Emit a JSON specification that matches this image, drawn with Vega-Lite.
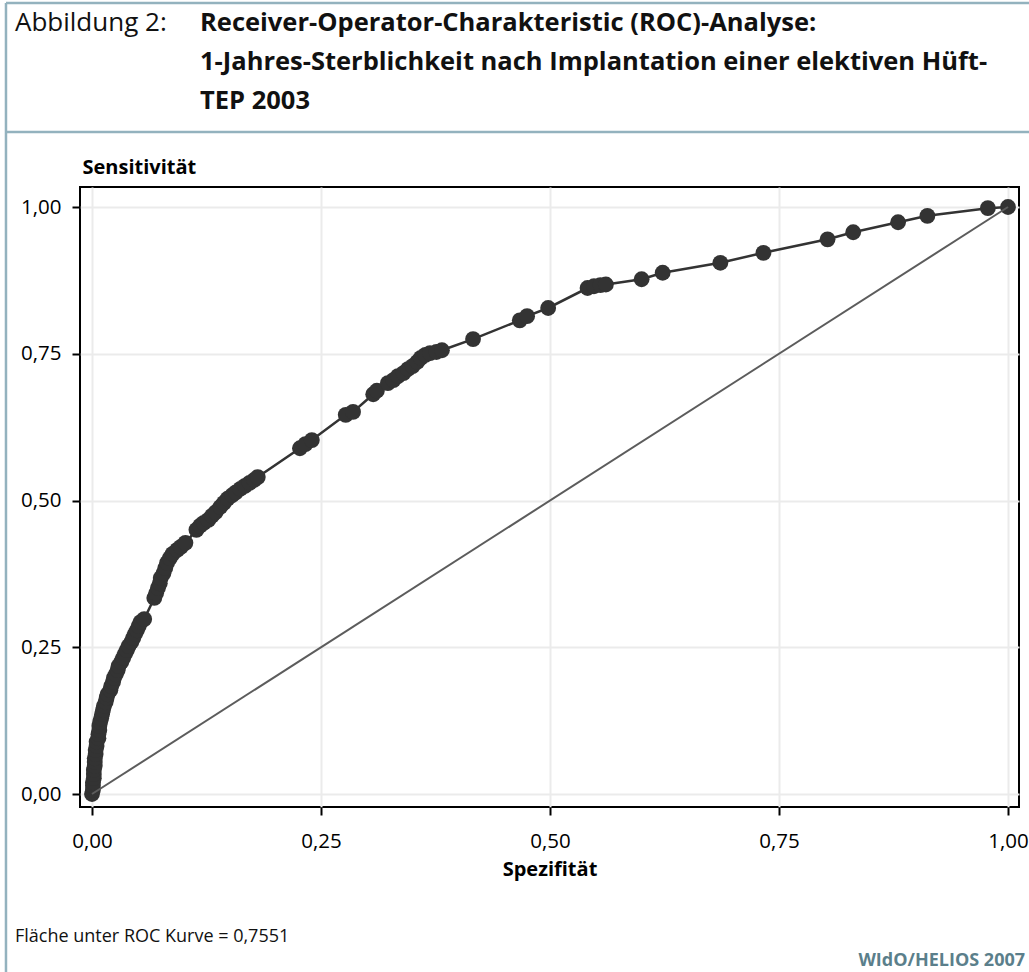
{
  "$schema": "https://vega.github.io/schema/vega-lite/v6.json",
  "width": 939,
  "height": 620,
  "autosize": {"type": "none"},
  "padding": {"left": 80, "top": 187, "right": 10, "bottom": 165},
  "background": "white",
  "config": {
    "font": "Open Sans",
    "view": {"stroke": "#000000", "strokeWidth": 2},
    "axis": {
      "grid": true,
      "gridColor": "#ebebeb",
      "gridWidth": 2,
      "domain": false,
      "tickColor": "#000000",
      "tickWidth": 2,
      "tickSize": 8,
      "labelFont": "Open Sans",
      "labelFontSize": 20.5,
      "labelColor": "#000000",
      "titleFont": "Open Sans",
      "titleFontSize": 20,
      "titleFontWeight": "bold",
      "titleColor": "#000000"
    }
  },
  "datasets": {
    "roc": [
      {"spezifitaet": 0.000, "sensitivitaet": 0.000},
      {"spezifitaet": 0.001, "sensitivitaet": 0.007},
      {"spezifitaet": 0.001, "sensitivitaet": 0.014},
      {"spezifitaet": 0.001, "sensitivitaet": 0.020},
      {"spezifitaet": 0.002, "sensitivitaet": 0.027},
      {"spezifitaet": 0.002, "sensitivitaet": 0.034},
      {"spezifitaet": 0.002, "sensitivitaet": 0.041},
      {"spezifitaet": 0.003, "sensitivitaet": 0.048},
      {"spezifitaet": 0.003, "sensitivitaet": 0.055},
      {"spezifitaet": 0.003, "sensitivitaet": 0.061},
      {"spezifitaet": 0.004, "sensitivitaet": 0.068},
      {"spezifitaet": 0.004, "sensitivitaet": 0.075},
      {"spezifitaet": 0.005, "sensitivitaet": 0.082},
      {"spezifitaet": 0.005, "sensitivitaet": 0.089},
      {"spezifitaet": 0.007, "sensitivitaet": 0.095},
      {"spezifitaet": 0.007, "sensitivitaet": 0.102},
      {"spezifitaet": 0.008, "sensitivitaet": 0.109},
      {"spezifitaet": 0.008, "sensitivitaet": 0.116},
      {"spezifitaet": 0.009, "sensitivitaet": 0.123},
      {"spezifitaet": 0.010, "sensitivitaet": 0.129},
      {"spezifitaet": 0.011, "sensitivitaet": 0.136},
      {"spezifitaet": 0.012, "sensitivitaet": 0.143},
      {"spezifitaet": 0.013, "sensitivitaet": 0.150},
      {"spezifitaet": 0.015, "sensitivitaet": 0.157},
      {"spezifitaet": 0.016, "sensitivitaet": 0.164},
      {"spezifitaet": 0.017, "sensitivitaet": 0.170},
      {"spezifitaet": 0.020, "sensitivitaet": 0.177},
      {"spezifitaet": 0.021, "sensitivitaet": 0.184},
      {"spezifitaet": 0.023, "sensitivitaet": 0.191},
      {"spezifitaet": 0.024, "sensitivitaet": 0.198},
      {"spezifitaet": 0.026, "sensitivitaet": 0.204},
      {"spezifitaet": 0.028, "sensitivitaet": 0.211},
      {"spezifitaet": 0.029, "sensitivitaet": 0.218},
      {"spezifitaet": 0.032, "sensitivitaet": 0.225},
      {"spezifitaet": 0.034, "sensitivitaet": 0.232},
      {"spezifitaet": 0.036, "sensitivitaet": 0.239},
      {"spezifitaet": 0.038, "sensitivitaet": 0.245},
      {"spezifitaet": 0.040, "sensitivitaet": 0.252},
      {"spezifitaet": 0.043, "sensitivitaet": 0.259},
      {"spezifitaet": 0.045, "sensitivitaet": 0.266},
      {"spezifitaet": 0.047, "sensitivitaet": 0.273},
      {"spezifitaet": 0.049, "sensitivitaet": 0.279},
      {"spezifitaet": 0.051, "sensitivitaet": 0.286},
      {"spezifitaet": 0.053, "sensitivitaet": 0.293},
      {"spezifitaet": 0.057, "sensitivitaet": 0.298},
      {"spezifitaet": 0.068, "sensitivitaet": 0.334},
      {"spezifitaet": 0.070, "sensitivitaet": 0.342},
      {"spezifitaet": 0.072, "sensitivitaet": 0.351},
      {"spezifitaet": 0.074, "sensitivitaet": 0.359},
      {"spezifitaet": 0.075, "sensitivitaet": 0.368},
      {"spezifitaet": 0.078, "sensitivitaet": 0.376},
      {"spezifitaet": 0.080, "sensitivitaet": 0.385},
      {"spezifitaet": 0.082, "sensitivitaet": 0.394},
      {"spezifitaet": 0.085, "sensitivitaet": 0.402},
      {"spezifitaet": 0.088, "sensitivitaet": 0.409},
      {"spezifitaet": 0.093, "sensitivitaet": 0.416},
      {"spezifitaet": 0.097, "sensitivitaet": 0.421},
      {"spezifitaet": 0.102, "sensitivitaet": 0.428},
      {"spezifitaet": 0.114, "sensitivitaet": 0.450},
      {"spezifitaet": 0.118, "sensitivitaet": 0.457},
      {"spezifitaet": 0.122, "sensitivitaet": 0.462},
      {"spezifitaet": 0.127, "sensitivitaet": 0.467},
      {"spezifitaet": 0.131, "sensitivitaet": 0.474},
      {"spezifitaet": 0.135, "sensitivitaet": 0.480},
      {"spezifitaet": 0.140, "sensitivitaet": 0.489},
      {"spezifitaet": 0.144, "sensitivitaet": 0.496},
      {"spezifitaet": 0.148, "sensitivitaet": 0.503},
      {"spezifitaet": 0.153, "sensitivitaet": 0.509},
      {"spezifitaet": 0.157, "sensitivitaet": 0.514},
      {"spezifitaet": 0.162, "sensitivitaet": 0.520},
      {"spezifitaet": 0.167, "sensitivitaet": 0.525},
      {"spezifitaet": 0.172, "sensitivitaet": 0.530},
      {"spezifitaet": 0.177, "sensitivitaet": 0.535},
      {"spezifitaet": 0.181, "sensitivitaet": 0.540},
      {"spezifitaet": 0.227, "sensitivitaet": 0.589},
      {"spezifitaet": 0.233, "sensitivitaet": 0.596},
      {"spezifitaet": 0.240, "sensitivitaet": 0.603},
      {"spezifitaet": 0.277, "sensitivitaet": 0.646},
      {"spezifitaet": 0.285, "sensitivitaet": 0.651},
      {"spezifitaet": 0.307, "sensitivitaet": 0.681},
      {"spezifitaet": 0.311, "sensitivitaet": 0.687},
      {"spezifitaet": 0.323, "sensitivitaet": 0.700},
      {"spezifitaet": 0.329, "sensitivitaet": 0.705},
      {"spezifitaet": 0.334, "sensitivitaet": 0.712},
      {"spezifitaet": 0.340, "sensitivitaet": 0.717},
      {"spezifitaet": 0.345, "sensitivitaet": 0.724},
      {"spezifitaet": 0.350, "sensitivitaet": 0.729},
      {"spezifitaet": 0.355, "sensitivitaet": 0.736},
      {"spezifitaet": 0.359, "sensitivitaet": 0.743},
      {"spezifitaet": 0.364, "sensitivitaet": 0.748},
      {"spezifitaet": 0.369, "sensitivitaet": 0.751},
      {"spezifitaet": 0.376, "sensitivitaet": 0.753},
      {"spezifitaet": 0.382, "sensitivitaet": 0.756},
      {"spezifitaet": 0.416, "sensitivitaet": 0.775},
      {"spezifitaet": 0.467, "sensitivitaet": 0.807},
      {"spezifitaet": 0.475, "sensitivitaet": 0.814},
      {"spezifitaet": 0.498, "sensitivitaet": 0.828},
      {"spezifitaet": 0.541, "sensitivitaet": 0.862},
      {"spezifitaet": 0.548, "sensitivitaet": 0.865},
      {"spezifitaet": 0.555, "sensitivitaet": 0.867},
      {"spezifitaet": 0.561, "sensitivitaet": 0.868},
      {"spezifitaet": 0.600, "sensitivitaet": 0.877},
      {"spezifitaet": 0.623, "sensitivitaet": 0.888},
      {"spezifitaet": 0.686, "sensitivitaet": 0.905},
      {"spezifitaet": 0.733, "sensitivitaet": 0.922},
      {"spezifitaet": 0.803, "sensitivitaet": 0.945},
      {"spezifitaet": 0.831, "sensitivitaet": 0.957},
      {"spezifitaet": 0.880, "sensitivitaet": 0.974},
      {"spezifitaet": 0.912, "sensitivitaet": 0.985},
      {"spezifitaet": 0.978, "sensitivitaet": 0.998},
      {"spezifitaet": 1.000, "sensitivitaet": 1.000}
    ],
    "diagonale": [
      {"spezifitaet": 0, "sensitivitaet": 0},
      {"spezifitaet": 1, "sensitivitaet": 1}
    ]
  },
  "layer": [
    {
      "data": {"name": "roc"},
      "mark": {"type": "line", "color": "#333333", "strokeWidth": 2.5},
      "encoding": {
        "x": {
          "field": "spezifitaet",
          "type": "quantitative",
          "scale": {"domain": [-0.0131, 1.012], "nice": false, "zero": false},
          "axis": {
            "title": "Spezifität",
            "values": [0, 0.25, 0.5, 0.75, 1],
            "labelExpr": "replace(format(datum.value, '.2f'), '.', ',')",
            "labelPadding": 16,
            "titlePadding": 8
          }
        },
        "y": {
          "field": "sensitivitaet",
          "type": "quantitative",
          "scale": {"domain": [-0.0221, 1.0341], "nice": false, "zero": false},
          "axis": {
            "title": "Sensitivität",
            "values": [0, 0.25, 0.5, 0.75, 1],
            "labelExpr": "replace(format(datum.value, '.2f'), '.', ',')",
            "labelPadding": 11,
            "titleAngle": 0,
            "titleAlign": "left",
            "titleBaseline": "alphabetic",
            "titleX": 2,
            "titleY": -14
          }
        },
        "order": {"field": "sensitivitaet", "type": "quantitative"}
      }
    },
    {
      "data": {"name": "roc"},
      "mark": {"type": "point", "shape": "circle", "filled": true, "size": 250, "color": "#333333", "opacity": 1},
      "encoding": {
        "x": {"field": "spezifitaet", "type": "quantitative", "title": "Spezifität"},
        "y": {"field": "sensitivitaet", "type": "quantitative", "title": "Sensitivität"}
      }
    },
    {
      "data": {"name": "diagonale"},
      "mark": {"type": "line", "color": "#5c5c5c", "strokeWidth": 2},
      "encoding": {
        "x": {"field": "spezifitaet", "type": "quantitative", "title": "Spezifität"},
        "y": {"field": "sensitivitaet", "type": "quantitative", "title": "Sensitivität"}
      }
    },
    {
      "data": {"values": [{}]},
      "mark": {"type": "rule", "color": "#93b2be", "strokeWidth": 2.5},
      "encoding": {
        "x": {"datum": -0.0939, "title": "Spezifität"},
        "y": {"datum": 1.3475, "title": "Sensitivität"},
        "y2": {"datum": -0.3032}
      }
    },
    {
      "data": {"values": [{}]},
      "mark": {"type": "rule", "color": "#93b2be", "strokeWidth": 2.5},
      "encoding": {
        "x": {"datum": -0.0939, "title": "Spezifität"},
        "x2": {"datum": 1.023},
        "y": {"datum": 1.3475, "title": "Sensitivität"}
      }
    },
    {
      "data": {"values": [{}]},
      "mark": {"type": "rule", "color": "#93b2be", "strokeWidth": 2.5},
      "encoding": {
        "x": {"datum": -0.0939, "title": "Spezifität"},
        "x2": {"datum": 1.023},
        "y": {"datum": 1.1278, "title": "Sensitivität"}
      }
    },
    {
      "data": {"values": [{}]},
      "mark": {"type": "text", "text": "Abbildung 2:", "align": "left", "baseline": "alphabetic", "fontSize": 26, "font": "Open Sans", "color": "#111111"},
      "encoding": {
        "x": {"datum": -0.0841, "title": "Spezifität"},
        "y": {"datum": 1.2998, "title": "Sensitivität"}
      }
    },
    {
      "data": {"values": [{}]},
      "mark": {
        "type": "text",
        "text": ["Receiver-Operator-Charakteristic (ROC)-Analyse:", "1-Jahres-Sterblichkeit nach Implantation einer elektiven Hüft-", "TEP 2003"],
        "align": "left",
        "baseline": "alphabetic",
        "lineHeight": 39,
        "fontSize": 25.5,
        "fontWeight": "bold",
        "font": "Open Sans",
        "color": "#111111"
      },
      "encoding": {
        "x": {"datum": 0.1179, "title": "Spezifität"},
        "y": {"datum": 1.2998, "title": "Sensitivität"}
      }
    },
    {
      "data": {"values": [{}]},
      "mark": {"type": "text", "text": "Fläche unter ROC Kurve = 0,7551", "align": "left", "baseline": "alphabetic", "fontSize": 18, "font": "Open Sans", "color": "#111111"},
      "encoding": {
        "x": {"datum": -0.0841, "title": "Spezifität"},
        "y": {"datum": -0.2521, "title": "Sensitivität"}
      }
    },
    {
      "data": {"values": [{}]},
      "mark": {"type": "text", "text": "WIdO/HELIOS 2007", "align": "right", "baseline": "alphabetic", "fontSize": 18, "fontWeight": "bold", "font": "Open Sans", "color": "#5b7f8b"},
      "encoding": {
        "x": {"datum": 1.0186, "title": "Spezifität"},
        "y": {"datum": -0.2930, "title": "Sensitivität"}
      }
    }
  ]
}
